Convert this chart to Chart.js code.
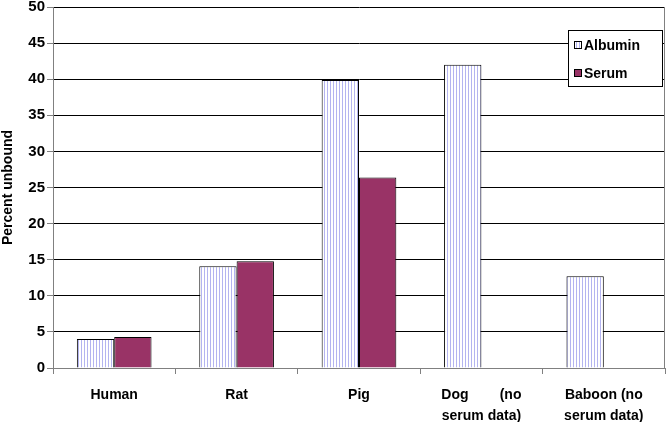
<!DOCTYPE html>
<html>
<head>
<meta charset="utf-8">
<script src="https://cdn.jsdelivr.net/npm/chart.js@4"></script>
<style>
  html, body { margin: 0; padding: 0; background: #fff; }
  #wrap { width: 667px; height: 422px; }
</style>
</head>
<body>
<div id="wrap"><canvas id="grafico" width="667" height="422"></canvas></div>
<script>
const especies = [
  ["Human"],
  ["Rat"],
  ["Pig"],
  ["Dog        (no", "serum data)"],
  ["Baboon (no", "serum data)"]
];
const albumin = [4.0, 14.1, 39.9, 42.0, 12.7];
const serum = [4.3, 14.8, 26.4, null, null];
const ticksY = [0, 5, 10, 15, 20, 25, 30, 35, 40, 45, 50];

const fuente = "'Liberation Sans', Arial, sans-serif";

// rayado vertical para la serie albumin
function rayas() {
  const c = document.createElement("canvas");
  c.width = 3; c.height = 3;
  const g = c.getContext("2d");
  g.fillStyle = "#ffffff";
  g.fillRect(0, 0, 3, 3);
  g.fillStyle = "#b4b4f0";
  g.fillRect(0, 0, 1, 3);
  return document.getElementById("grafico").getContext("2d").createPattern(c, "repeat");
}

const patron = rayas();

// leyenda dibujada a mano dentro del area
const leyenda = {
  id: "leyenda",
  afterDraw(chart) {
    const ctx = chart.ctx;
    const x = 568, y = 30, w = 94, h = 56;
    ctx.save();
    ctx.fillStyle = "#fff";
    ctx.fillRect(x, y, w, h);
    ctx.strokeStyle = "#000";
    ctx.lineWidth = 1;
    ctx.strokeRect(x + 0.5, y + 0.5, w, h);
    const items = [
      { t: chart.data.datasets[0].label, f: patron, cy: 45 },
      { t: chart.data.datasets[1].label, f: "#993366", cy: 73 }
    ];
    ctx.font = "bold 14px " + fuente;
    ctx.textBaseline = "middle";
    items.forEach(it => {
      ctx.fillStyle = it.f;
      ctx.fillRect(574, it.cy - 4, 8, 8);
      ctx.strokeStyle = "#000";
      ctx.strokeRect(574.5, it.cy - 3.5, 7, 7);
      ctx.fillStyle = "#000";
      ctx.fillText(it.t, 584, it.cy + 1);
    });
    ctx.restore();
  }
};

// borde derecho gris del area
const borde = {
  id: "borde",
  afterDraw(chart) {
    const a = chart.chartArea;
    const ctx = chart.ctx;
    ctx.save();
    ctx.strokeStyle = "#808080";
    ctx.beginPath();
    ctx.moveTo(a.right - 0.5, a.top);
    ctx.lineTo(a.right - 0.5, a.bottom);
    ctx.stroke();
    ctx.restore();
  }
};

new Chart(document.getElementById("grafico"), {
  type: "bar",
  data: {
    labels: especies,
    datasets: [
      {
        label: "Albumin",
        data: albumin,
        backgroundColor: patron,
        borderColor: "#000",
        borderWidth: 1,
        borderSkipped: "bottom"
      },
      {
        label: "Serum",
        data: serum,
        backgroundColor: "#993366",
        borderColor: "#000",
        borderWidth: 1,
        borderSkipped: "bottom"
      }
    ]
  },
  options: {
    responsive: false,
    animation: false,
    layout: { padding: { top: 7, right: 2, left: 0, bottom: 0 } },
    plugins: {
      legend: { display: false },
      tooltip: { enabled: false }
    },
    datasets: {
      bar: { categoryPercentage: 0.61, barPercentage: 1.0 }
    },
    scales: {
      x: {
        grid: {
          offset: true,
          drawOnChartArea: false,
          tickLength: 6,
          tickColor: "#808080"
        },
        border: { color: "#808080" },
        ticks: {
          color: "#000",
          font: { family: fuente, size: 14, weight: "bold", lineHeight: 1.5 },
          maxRotation: 0,
          padding: 11
        },
        afterFit(s) { s.height = 54; s.paddingLeft = 0; s.paddingRight = 0; }
      },
      y: {
        min: 0,
        max: 50,
        afterBuildTicks(s) { s.ticks = ticksY.map(v => ({ value: v })); },
        grid: {
          color: "#000",
          tickLength: 6,
          tickColor: "#808080"
        },
        border: { color: "#808080" },
        ticks: {
          color: "#000",
          font: { family: fuente, size: 15, weight: "bold" },
          padding: 2
        },
        title: {
          display: true,
          text: "Percent unbound",
          color: "#000",
          font: { family: fuente, size: 14, weight: "bold" },
          padding: { top: 0, bottom: 2 }
        },
        afterFit(s) { s.width = 53; s.paddingTop = 0; s.paddingBottom = 0; }
      }
    }
  },
  plugins: [leyenda, borde]
});
</script>
</body>
</html>
